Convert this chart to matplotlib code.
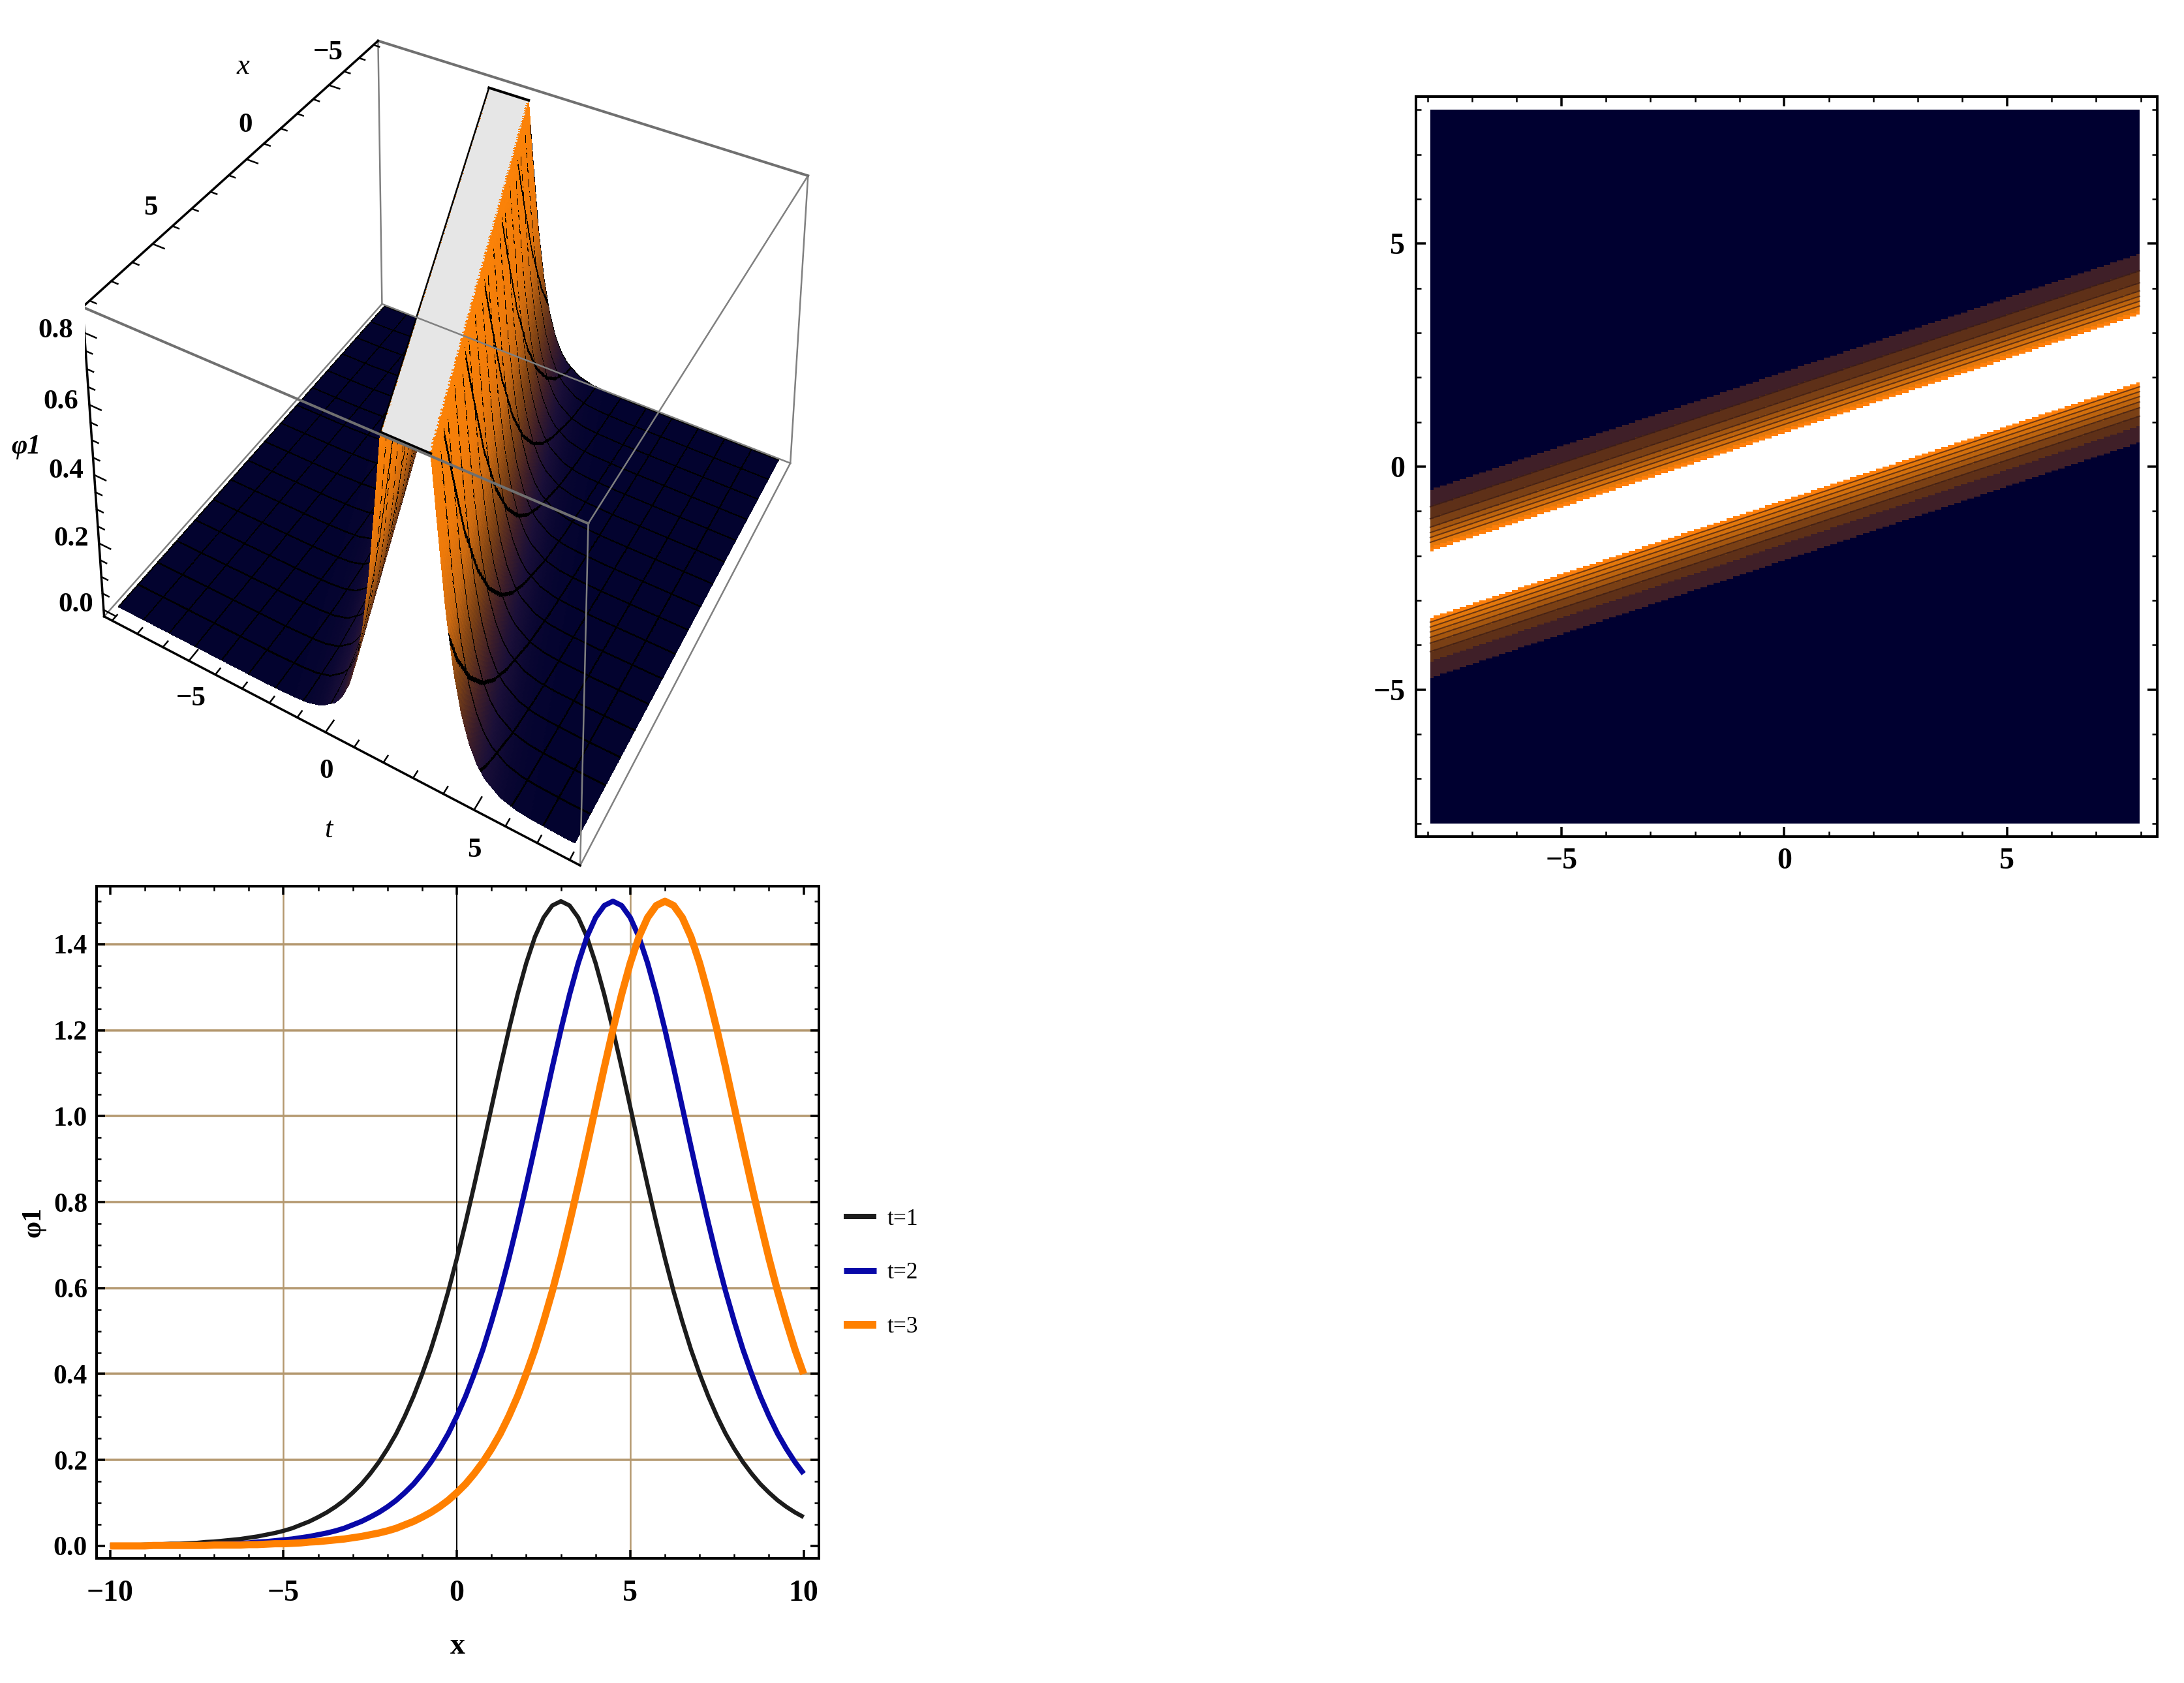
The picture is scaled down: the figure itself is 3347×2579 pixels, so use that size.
import numpy as np
import matplotlib
matplotlib.use("Agg")
import matplotlib.pyplot as plt
from matplotlib.colors import LinearSegmentedColormap, to_rgba
from matplotlib.ticker import MultipleLocator
from mpl_toolkits.mplot3d import proj3d

W, H = 3347, 2579
SERIF = ["Liberation Serif", "DejaVu Serif"]

# line plot
x_vals = [i * 0.25 - 10 for i in range(81)]
phi_t1 = [.002, .002, .002, .002, .003, .003, .004, .005, .005, .006, .007, .009, .010, .012, .014, .016, .019, .022,
          .026, .030, .035, .041, .049, .057, .067, .078, .091, .106, .124, .144, .168, .195, .226, .261, .302, .348,
          .400, .457, .522, .592, .669, .752, .839, .929, 1.021, 1.113, 1.201, 1.283, 1.356, 1.417, 1.462, 1.490, 1.5,
          1.490, 1.462, 1.417, 1.356, 1.283, 1.201, 1.113, 1.021, .929, .839, .752, .669, .592, .522, .457, .400, .348,
          .302, .261, .226, .195, .168, .144, .124, .106, .091, .078, .067]
phi_t2 = [.001, .001, .001, .001, .001, .001, .002, .002, .002, .002, .003, .003, .004, .005, .005, .006, .007,
          .009, .010, .012, .014, .016, .019, .022, .026, .030, .035, .041, .049, .057, .067, .078, .091, .106, .124,
          .144, .168, .195, .226, .261, .302, .348, .400, .457, .522, .592, .669, .752, .839, .929, 1.021, 1.113,
          1.201, 1.283, 1.356, 1.417, 1.462, 1.490, 1.5, 1.490, 1.462, 1.417, 1.356, 1.283, 1.201, 1.113, 1.021, .929,
          .839, .752, .669, .592, .522, .457, .400, .348, .302, .261, .226, .195, .168]
phi_t3 = [0, 0, 0, 0, 0, .001, .001, .001, .001, .001, .001, .001, .002, .002, .002, .002, .003, .003, .004, .005,
          .005, .006, .007, .009, .010, .012, .014, .016, .019, .022, .026, .030, .035, .041, .049, .057, .067, .078,
          .091, .106, .124, .144, .168, .195, .226, .261, .302, .348, .400, .457, .522, .592, .669, .752, .839, .929,
          1.021, 1.113, 1.201, 1.283, 1.356, 1.417, 1.462, 1.490, 1.5, 1.490, 1.462, 1.417, 1.356, 1.283, 1.201, 1.113,
          1.021, .929, .839, .752, .669, .592, .522, .457, .400]
line_names = ["t=1", "t=2", "t=3"]
line_colors = ["#1c1c1c", "#0808a8", "#ff8000"]
y_grid = [0.2, 0.4, 0.6, 0.8, 1.0, 1.2, 1.4]
x_grid = [-5, 5]

# contour panel: band edges at the left (x=-8) and right (x=8) sides
upper_left = [-0.54, -0.92, -1.19, -1.38, -1.50, -1.61, -1.72, -1.83, -1.92]
upper_right = [4.78, 4.40, 4.13, 3.95, 3.83, 3.72, 3.61, 3.50, 3.42]
lower_left = [-4.76, -4.39, -4.17, -3.98, -3.85, -3.73, -3.62, -3.51, -3.41]
lower_right = [0.55, 0.92, 1.14, 1.33, 1.46, 1.58, 1.69, 1.80, 1.90]
band_colors = ["#3f1f28", "#5e3018", "#7a4015", "#a4560f", "#bd640e", "#d4700c", "#e4780b", "#ff7f0a"]

# surface: height against distance from the ridge line t = x/3
ridge_dist = [0, .25, .5, .8, 1.0, 1.25, 1.5, 1.75, 2.0, 2.25, 2.5, 3.0, 3.5, 4.0, 5.0, 20.0]
ridge_phi = [1.5, 1.42, 1.2, .85, .669, .458, .302, .195, .124, .078, .049, .019, .007, .003, 0, 0]
plateau_z = 0.85
plateau_half = 0.8
sunset_stops = [0, .06, .15, .3, .5, .7, 1]
sunset_cols = ["#03032f", "#1a0f38", "#3f1f28", "#7a4015", "#cc6a10", "#ee7a0a", "#fb8208"]


def frac(left, top, right, bottom):
    return [left / W, 1 - bottom / H, (right - left) / W, (bottom - top) / H]


def px(n):
    return n * 72 / 100


def style_box(ax, xminor, yminor, major_len, minor_len):
    for s in ax.spines.values():
        s.set_linewidth(px(4))
    ax.xaxis.set_minor_locator(MultipleLocator(xminor))
    ax.yaxis.set_minor_locator(MultipleLocator(yminor))
    ax.tick_params(which="major", direction="in", top=True, right=True, length=px(major_len), width=px(3.5))
    ax.tick_params(which="minor", direction="in", top=True, right=True, length=px(minor_len), width=px(2.5))
    for lab in ax.get_xticklabels() + ax.get_yticklabels():
        lab.set_fontfamily(SERIF)
        lab.set_fontweight("bold")


fig = plt.figure(figsize=(W / 100, H / 100), dpi=100, facecolor="white")
plt.rcParams["mathtext.fontset"] = "stix"

# ---- 3D surface, view fitted to the box corners of the reference
ax3 = fig.add_subplot(projection="3d", computed_zorder=False)
ax3.set_position([0.03872, 0.41198, 0.33825, 0.69248])
ax3.apply_aspect = lambda position=None: None
s = 8.32
zlo, zhi = -0.02, 0.87
ax3.set_xlim(-s, s)
ax3.set_ylim(-s, s)
ax3.set_zlim(zlo, zhi)
ax3.set_xticks([])
ax3.set_yticks([])
ax3.set_zticks([])
ax3.set_proj_type("persp", focal_length=0.44)
ax3.set_box_aspect((1, 1, 0.411))
ax3.view_init(27.246, 29.316)
ax3.set_axis_off()


def label3d(x, y, z, txt, **kw):
    # project once so the label is an ordinary text on the axes
    u, v, _ = proj3d.proj_transform(x, y, z, ax3.get_proj())
    ax3.text2D(u, v, txt, transform=ax3.transData, ha="center", va="center", zorder=6, **kw)


xg = np.linspace(-8, 8, 257)
tg = np.linspace(-8, 8, 321)
X, T = np.meshgrid(xg, tg, indexing="ij")
Zfull = np.interp(np.abs(T - X / 3), ridge_dist, ridge_phi)
Z = np.minimum(Zfull, plateau_z)
cmap = LinearSegmentedColormap.from_list("sunset", list(zip(sunset_stops, sunset_cols)))
zc = (Z[:-1, :-1] + Z[1:, :-1] + Z[:-1, 1:] + Z[1:, 1:]) / 4
cols = cmap(np.clip(zc / plateau_z, 0, 1))
ix = np.arange(len(xg) - 1)
it = np.arange(len(tg) - 1)
cols[ix % 16 == 0, :, :3] = 0
cols[:, it % 20 == 0, :3] = 0
corners = np.stack([Zfull[:-1, :-1], Zfull[1:, :-1], Zfull[:-1, 1:], Zfull[1:, 1:]])
all_high = corners.min(axis=0) >= plateau_z
any_high = corners.max(axis=0) >= plateau_z
cols[any_high] = to_rgba("#fb8208")
cols[all_high] = to_rgba("#e6e6e6")
ax3.plot_surface(X, T, Z, facecolors=cols, rstride=1, cstride=1, shade=False, antialiased=False,
                 linewidth=0, zorder=2)

# plateau outline: left side and both ends
ends = np.array([-8.0, 8.0])
ax3.plot(ends, ends / 3 - plateau_half, [plateau_z, plateau_z], color="black", lw=px(2.5), zorder=3)
for e in ends:
    ax3.plot([e, e], [e / 3 - plateau_half, e / 3 + plateau_half], [plateau_z, plateau_z], color="black",
             lw=px(4), zorder=3)

A, B, C, D = (-s, -s, zhi), (-s, s, zhi), (s, s, zhi), (s, -s, zhi)
E, F, G, Hh = (-s, -s, zlo), (-s, s, zlo), (s, s, zlo), (s, -s, zlo)
box_thick = [(A, B), (D, C)]
box_thin = [(B, C), (A, E), (B, F), (C, G), (F, G), (E, F), (Hh, E)]
axis_edges = [(D, A), (D, Hh), (Hh, G)]
for p, q in box_thin:
    ax3.plot(*zip(p, q), color="#808080", lw=px(2.5), zorder=4)
for p, q in box_thick:
    ax3.plot(*zip(p, q), color="#707070", lw=px(4), zorder=4)
for p, q in axis_edges:
    ax3.plot(*zip(p, q), color="black", lw=px(3.5), zorder=5)

for v in range(-8, 9):
    ln = 0.45 if v % 5 == 0 else 0.25
    ax3.plot([v, v], [-s, -s + ln], [zhi, zhi], color="black", lw=px(2.5), zorder=5)
    ax3.plot([s, s - ln], [v, v], [zlo, zlo], color="black", lw=px(2.5), zorder=5)
for v in np.arange(0, 0.81, 0.05):
    ln = 0.45 if round(v * 100) % 20 == 0 else 0.25
    ax3.plot([s, s], [-s, -s + ln], [v, v], color="black", lw=px(2.5), zorder=5)

font3 = dict(family=SERIF, fontweight="bold", fontsize=31)
for v, lab in zip([-5, 0, 5], ["\u22125", "0", "5"]):
    label3d(v, -s, zhi + 0.10, lab, **font3)
    label3d(s, v, zlo - 0.115, lab, **font3)
for v, lab in zip([0, .2, .4, .6, .8], ["0.0", "0.2", "0.4", "0.6", "0.8"]):
    label3d(s, -s - 1.15, v - 0.03, lab, **font3)
ital = dict(family=SERIF, style="italic", fontsize=32)
label3d(0, -s, zhi + 0.27, "x", **ital)
label3d(s, 0, zlo - 0.29, "t", **ital)
label3d(s, -s - 2.75, 0.385, "\u03c61", family=SERIF, style="italic", fontweight="bold", fontsize=30)

# ---- line plot
ax = fig.add_axes(frac(148, 1358, 1255, 2388))
ax.set_xlim(-10.39, 10.44)
ax.set_ylim(-0.029, 1.535)
for yy in y_grid:
    ax.axhline(yy, color="#b4986f", lw=px(3.5), zorder=1)
for xx in x_grid:
    ax.axvline(xx, color="#b4986f", lw=px(2.5), zorder=1)
ax.axvline(0, color="black", lw=px(2), zorder=1)
widths = [6.5, 8, 11]
handles = []
for vals, name, col, wd in zip([phi_t1, phi_t2, phi_t3], line_names, line_colors, widths):
    h, = ax.plot(x_vals, vals, color=col, lw=px(wd), label=name, solid_capstyle="butt", zorder=3)
    handles.append(h)
ax.set_xticks([-10, -5, 0, 5, 10], ["\u221210", "\u22125", "0", "5", "10"])
ax.set_yticks(np.arange(0, 1.41, 0.2))
ax.yaxis.set_major_formatter(lambda v, pos: f"{v:.1f}")
style_box(ax, 1, 0.05, 13, 7)
ax.tick_params(axis="x", which="major", labelsize=33, pad=24)
ax.tick_params(axis="y", which="major", labelsize=30, pad=10)
ax.set_xlabel("x", family=SERIF, fontweight="bold", fontsize=33, labelpad=28)
ax.set_ylabel("\u03c61", family=SERIF, fontweight="bold", fontsize=30, labelpad=8)
leg = ax.legend(handles=handles, loc="center left", bbox_to_anchor=(1.034, 0.4244), frameon=False, borderpad=0,
                borderaxespad=0, handlelength=1.42, handletextpad=0.46, labelspacing=1.4,
                prop={"family": SERIF, "size": 25.5})
for lh, wd in zip(leg.get_lines(), [8, 9, 12]):
    lh.set_linewidth(px(wd))

# ---- contour panel
ax2 = fig.add_axes(frac(2170, 148, 3306, 1282))
ax2.set_xlim(-8.26, 8.37)
ax2.set_ylim(-8.30, 8.30)
xs = np.arange(-7.94, 8.04, 0.146)


def edge(left, right):
    return left + (right - left) * (xs + 8) / 16


ax2.fill_between(xs, -8, 8, color="#000030", step="mid", lw=0, zorder=1)
ax2.fill_between(xs, edge(lower_left[-1], lower_right[-1]), edge(upper_left[-1], upper_right[-1]),
                 color="white", step="mid", lw=0, zorder=2)
for i, col in enumerate(band_colors):
    ax2.fill_between(xs, edge(upper_left[i], upper_right[i]), edge(upper_left[i + 1], upper_right[i + 1]),
                     color=col, step="mid", lw=0, zorder=2)
    ax2.fill_between(xs, edge(lower_left[i], lower_right[i]), edge(lower_left[i + 1], lower_right[i + 1]),
                     color=col, step="mid", lw=0, zorder=2)
    if 0 < i < len(band_colors) - 1:
        ax2.plot(xs, edge(upper_left[i], upper_right[i]), color="#3a1c14", lw=px(2), alpha=0.7, zorder=3)
        ax2.plot(xs, edge(lower_left[i + 1], lower_right[i + 1]), color="#3a1c14", lw=px(2), alpha=0.7, zorder=3)
ax2.set_xticks([-5, 0, 5], ["\u22125", "0", "5"])
ax2.set_yticks([-5, 0, 5], ["\u22125", "0", "5"])
style_box(ax2, 1, 1, 15, 8)
ax2.tick_params(axis="both", which="major", labelsize=33, pad=12)

fig.savefig("out.png", dpi=100)
